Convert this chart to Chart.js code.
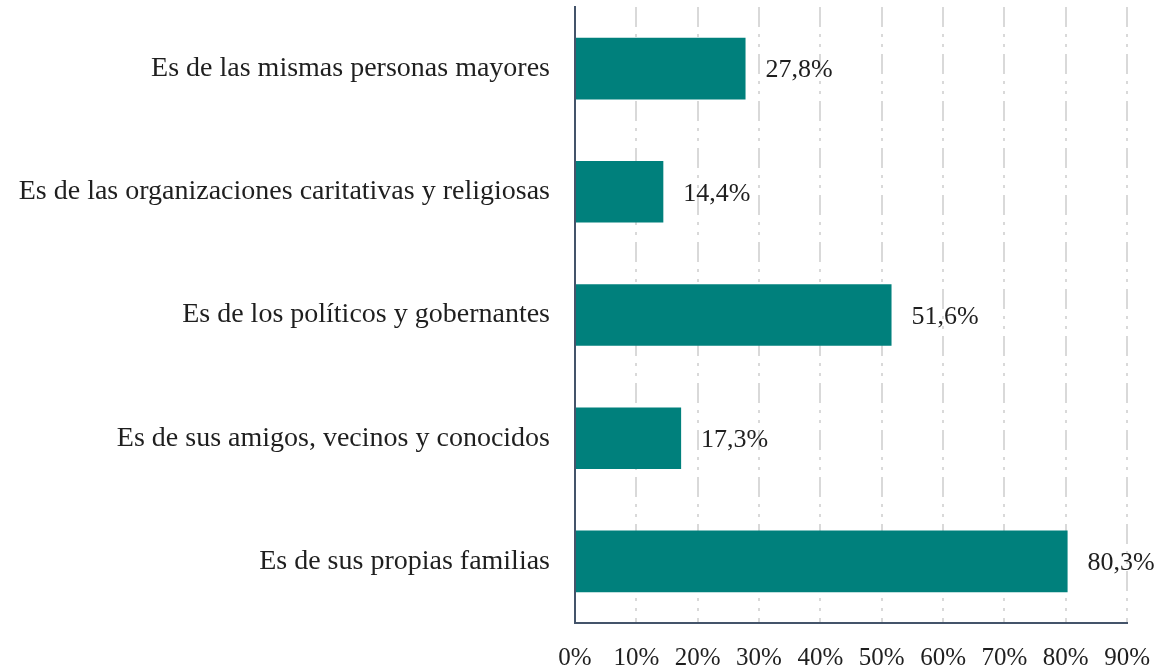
<!DOCTYPE html>
<html>
<head>
<meta charset="utf-8">
<script src="https://cdn.jsdelivr.net/npm/chart.js@4/dist/chart.umd.min.js"></script>
<style>
  html, body { margin: 0; padding: 0; background: #ffffff; }
  #wrap { width: 1170px; height: 672px; }
</style>
</head>
<body>
<div id="wrap"><canvas id="barChart" width="1170" height="672"></canvas></div>
<script>
// chart data
var categories = [
    'Es de las mismas personas mayores',
    'Es de las organizaciones caritativas y religiosas',
    'Es de los políticos y gobernantes',
    'Es de sus amigos, vecinos y conocidos',
    'Es de sus propias familias'
];
var percentValues = [27.8, 14.4, 51.6, 17.3, 80.3];
var xTickValues = [0, 10, 20, 30, 40, 50, 60, 70, 80, 90];

var FONT = "'Liberation Serif', 'Times New Roman', serif";
var TEXT_COLOR = '#1f1f1f';
var AXIS_COLOR = '#44546a';

function formatPct(v) {
    return v.toFixed(1).replace('.', ',') + '%';
}

// draws the value labels next to each bar
var valueLabels = {
    id: 'valueLabels',
    afterDatasetsDraw: function(chart) {
        var ctx = chart.ctx;
        var meta = chart.getDatasetMeta(0);
        ctx.save();
        ctx.font = '26px ' + FONT;
        ctx.fillStyle = TEXT_COLOR;
        ctx.textAlign = 'left';
        ctx.textBaseline = 'middle';
        meta.data.forEach(function(bar, i) {
            ctx.fillText(formatPct(percentValues[i]), bar.x + 20, bar.y + 2);
        });
        ctx.restore();
    }
};

var ctx = document.getElementById('barChart');
new Chart(ctx, {
    type: 'bar',
    data: {
        labels: categories,
        datasets: [{
            data: percentValues,
            backgroundColor: '#00807c',
            borderWidth: 0,
            categoryPercentage: 1,
            barPercentage: 0.5
        }]
    },
    options: {
        indexAxis: 'y',
        responsive: false,
        animation: false,
        layout: {
            padding: { left: 0, right: 40, top: 7, bottom: 0 }
        },
        plugins: {
            legend: { display: false },
            tooltip: { enabled: false }
        },
        scales: {
            x: {
                min: 0,
                max: 90,
                afterBuildTicks: function(scale) {
                    scale.ticks = xTickValues.map(function(v) { return { value: v }; });
                },
                afterFit: function(scale) {
                    scale.height = 49;
                },
                ticks: {
                    color: TEXT_COLOR,
                    font: { family: FONT, size: 25 },
                    padding: 20,
                    maxRotation: 0,
                    autoSkip: false,
                    callback: function(v) { return v + '%'; }
                },
                grid: {
                    color: '#d9d9d9',
                    lineWidth: 2,
                    drawTicks: false
                },
                border: {
                    display: true,
                    color: AXIS_COLOR,
                    width: 2,
                    dash: [20, 7, 3, 7, 3, 7],
                    z: 1
                }
            },
            y: {
                afterFit: function(scale) {
                    scale.width = 575;
                    // labels sit at band centres, no extra room needed above/below
                    scale.paddingTop = 0;
                    scale.paddingBottom = 0;
                },
                ticks: {
                    color: TEXT_COLOR,
                    font: { family: FONT, size: 28 },
                    padding: 25,
                    autoSkip: false
                },
                grid: {
                    display: false,
                    drawTicks: false
                },
                border: {
                    display: true,
                    color: AXIS_COLOR,
                    width: 2,
                    z: 1
                }
            }
        }
    },
    plugins: [valueLabels]
});
</script>
</body>
</html>
